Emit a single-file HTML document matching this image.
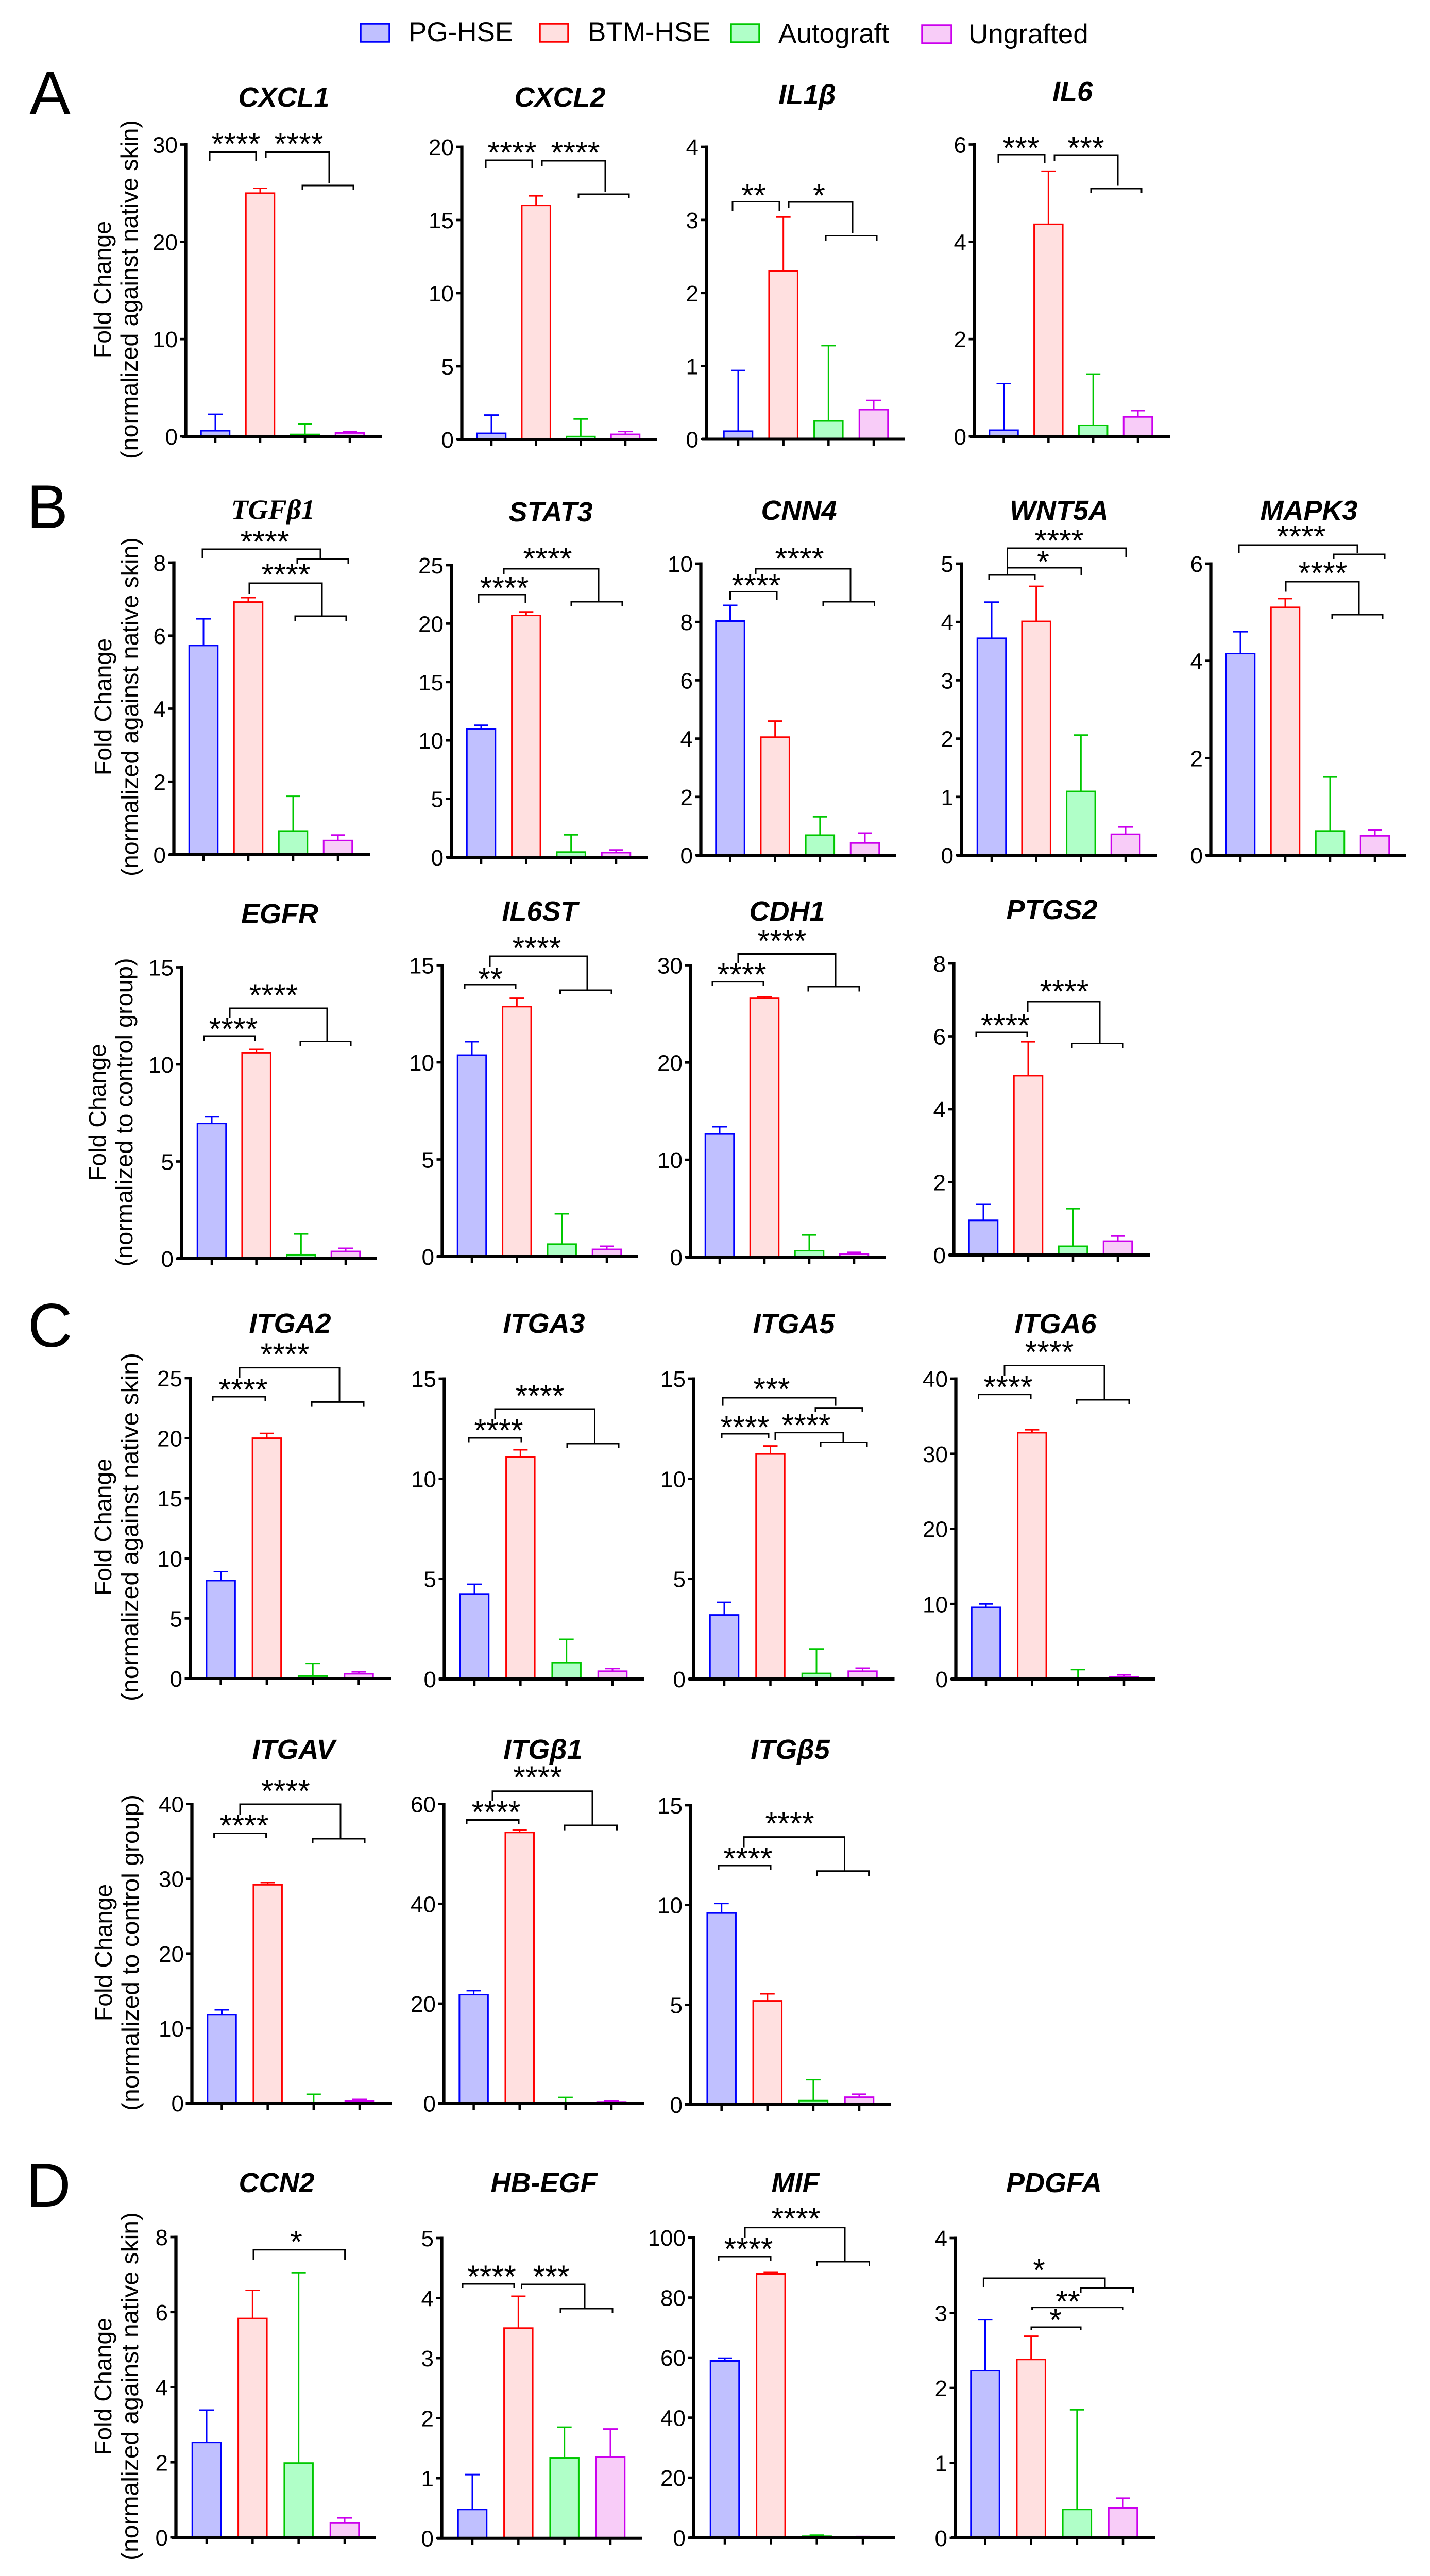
<!DOCTYPE html>
<html lang="en">
<head>
<meta charset="utf-8">
<title>Fold change bar charts</title>
<style>
html,body{margin:0;padding:0;background:#fff;width:2776px;height:5006px;overflow:hidden}
svg{display:block;overflow:hidden}
text{font-family:"Liberation Sans",Arial,sans-serif;fill:#000}
.gene{font-weight:bold;font-style:italic;font-size:54px;text-anchor:middle}
.gene.serif{font-family:"Liberation Serif",serif}
.tick{font-size:44px;text-anchor:end}
.stars{font-size:61px;text-anchor:middle}
.ytitle{font-size:46.5px;text-anchor:middle}
.legend-text{font-size:53px}
.letter{font-size:120px}
</style>
</head>
<body>
<svg id="figure" xmlns="http://www.w3.org/2000/svg" width="2776" height="5006" viewBox="0 0 2776 5006">
  <rect width="2776" height="5006" fill="#ffffff"/>
  <g>
    <g>
      <rect x="700" y="46" width="56" height="35" fill="#c0c0ff" stroke="#0000ff" stroke-width="3.5"/>
      <text class="legend-text" x="793" y="80">PG-HSE</text>
    </g>
    <g>
      <rect x="1048" y="46" width="55" height="35" fill="#ffe0e0" stroke="#ff0000" stroke-width="3.5"/>
      <text class="legend-text" x="1141" y="80">BTM-HSE</text>
    </g>
    <g>
      <rect x="1419" y="47" width="55" height="35" fill="#b0ffc8" stroke="#00c800" stroke-width="3.5"/>
      <text class="legend-text" x="1511" y="83">Autograft</text>
    </g>
    <g>
      <rect x="1790" y="49" width="57" height="35" fill="#f8ccf8" stroke="#cc00ee" stroke-width="3.5"/>
      <text class="legend-text" x="1880" y="84">Ungrafted</text>
    </g>
  </g>
  <text class="letter" x="57" y="222">A</text>
  <text class="letter" x="52" y="1025">B</text>
  <text class="letter" x="54" y="2614">C</text>
  <text class="letter" x="51" y="4283">D</text>
</svg>
<script>
const categories = ['PG-HSE', 'BTM-HSE', 'Autograft', 'Ungrafted'];

const geneNames = ['CXCL1','CXCL2','IL1β','IL6','TGFβ1','STAT3','CNN4','WNT5A','MAPK3','EGFR','IL6ST','CDH1','PTGS2','ITGA2','ITGA3','ITGA5','ITGA6','ITGAV','ITGβ1','ITGβ5','CCN2','HB-EGF','MIF','PDGFA'];

const meanValues = [
  [0.58,25,0.2,0.35],
  [0.42,16,0.2,0.35],
  [0.11,2.3,0.25,0.405],
  [0.127,4.36,0.228,0.4],
  [5.73,6.92,0.65,0.39],
  [11,20.7,0.45,0.4],
  [8.03,4.05,0.69,0.42],
  [3.72,4.01,1.095,0.36],
  [4.15,5.1,0.5,0.4],
  [6.96,10.6,0.2,0.37],
  [10.37,12.87,0.64,0.37],
  [12.65,26.6,0.66,0.3],
  [0.95,4.92,0.24,0.38],
  [8.15,20,0.2,0.39],
  [4.25,11.1,0.82,0.39],
  [3.2,11.24,0.28,0.39],
  [9.54,32.8,0.1,0.3],
  [11.8,29.2,0.07,0.28],
  [21.8,54.3,0.05,0.3],
  [9.6,5.2,0.2,0.37],
  [2.53,5.83,1.98,0.38],
  [0.48,3.5,1.34,1.35],
  [58.9,87.9,0.5,0.1],
  [2.23,2.38,0.38,0.4]
];

const errorTops = [
  [2.27,25.5,1.27,0.5],
  [1.67,16.65,1.4,0.54],
  [0.94,3.04,1.28,0.53],
  [1.085,5.45,1.28,0.53],
  [6.46,7.04,1.6,0.54],
  [11.3,21,1.93,0.63],
  [8.57,4.6,1.32,0.76],
  [4.34,4.61,2.06,0.485],
  [4.6,5.28,1.61,0.52],
  [7.3,10.77,1.27,0.53],
  [11.06,13.3,2.2,0.53],
  [13.4,26.75,2.27,0.48],
  [1.4,5.85,1.27,0.52],
  [8.9,20.4,1.26,0.55],
  [4.73,11.45,1.98,0.52],
  [3.83,11.64,1.5,0.54],
  [10,33.2,1.25,0.55],
  [12.47,29.5,1.17,0.48],
  [22.6,54.8,1.2,0.5],
  [10.08,5.55,1.25,0.52],
  [3.39,6.58,7.05,0.52],
  [1.06,4.03,1.85,1.82],
  [59.8,88.5,0.85,0.4],
  [2.91,2.69,1.71,0.53]
];

const tickLabels = [
  [0,10,20,30],
  [0,5,10,15,20],
  [0,1,2,3,4],
  [0,2,4,6],
  [0,2,4,6,8],
  [0,5,10,15,20,25],
  [0,2,4,6,8,10],
  [0,1,2,3,4,5],
  [0,2,4,6],
  [0,5,10,15],
  [0,5,10,15],
  [0,10,20,30],
  [0,2,4,6,8],
  [0,5,10,15,20,25],
  [0,5,10,15],
  [0,5,10,15],
  [0,10,20,30,40],
  [0,10,20,30,40],
  [0,20,40,60],
  [0,5,10,15],
  [0,2,4,6,8],
  [0,1,2,3,4,5],
  [0,20,40,60,80,100],
  [0,1,2,3,4]
];

/* Plot frames: axis x, zero y, top-tick y, first/last category x, axis extent, title placement */
const frames = [
  {ax:360.5,y0:847,yt:280.5,x0:418,x3:679,xs:353,xe:741,tx:551,ty:207},
  {ax:896.5,y0:853,yt:285,x0:954,x3:1214,xs:888,xe:1275,tx:1087,ty:207},
  {ax:1371.5,y0:852.5,yt:285,x0:1433,x3:1696,xs:1363,xe:1756,tx:1567,ty:202},
  {ax:1891.5,y0:847,yt:280.5,x0:1948.5,x3:2209,xs:1883,xe:2271,tx:2082,ty:196},
  {ax:337.5,y0:1659,yt:1092,x0:395,x3:656,xs:329,xe:718,tx:530,ty:1007},
  {ax:876.5,y0:1664,yt:1097,x0:934,x3:1196,xs:868,xe:1257,tx:1069,ty:1012},
  {ax:1360.5,y0:1660,yt:1094,x0:1417.5,x3:1679,xs:1351,xe:1740,tx:1551,ty:1009},
  {ax:1866.5,y0:1660,yt:1094,x0:1925,x3:2185,xs:1858,xe:2247,tx:2056,ty:1009},
  {ax:2350.5,y0:1660,yt:1094,x0:2408,x3:2669,xs:2341,xe:2730,tx:2541,ty:1009},
  {ax:352.5,y0:2443,yt:1877.5,x0:411,x3:671,xs:344,xe:732,tx:543,ty:1792},
  {ax:858.5,y0:2439,yt:1873.5,x0:916,x3:1178,xs:849,xe:1238,tx:1048,ty:1787},
  {ax:1340.5,y0:2440,yt:1873.5,x0:1397,x3:1658,xs:1331,xe:1719,tx:1528,ty:1787},
  {ax:1851.5,y0:2436,yt:1870,x0:1909,x3:2170,xs:1843,xe:2232,tx:2042,ty:1784},
  {ax:369.5,y0:3258,yt:2675,x0:428.6,x3:696.5,xs:360,xe:759,tx:563,ty:2587},
  {ax:862.5,y0:3259,yt:2676,x0:921,x3:1189,xs:853,xe:1251,tx:1056,ty:2587},
  {ax:1346.5,y0:3259,yt:2676,x0:1406,x3:1674.5,xs:1338,xe:1736.5,tx:1541,ty:2588},
  {ax:1855.5,y0:3259,yt:2676,x0:1914,x3:2182,xs:1847,xe:2243,tx:2049,ty:2588},
  {ax:372.5,y0:4082,yt:3501.6,x0:430.5,x3:698,xs:360.5,xe:761,tx:570,ty:3414},
  {ax:861.5,y0:4082.7,yt:3501.6,x0:919.6,x3:1187,xs:851,xe:1250,tx:1054,ty:3414},
  {ax:1340.5,y0:4085,yt:3504,x0:1400.7,x3:1668,xs:1329.5,xe:1730,tx:1534,ty:3414},
  {ax:341.5,y0:4925,yt:4342,x0:401,x3:669,xs:333,xe:730,tx:537,ty:4255},
  {ax:857.5,y0:4926.7,yt:4344,x0:917,x3:1185,xs:848,xe:1247,tx:1056,ty:4255},
  {ax:1346.5,y0:4925.7,yt:4343,x0:1407,x3:1675,xs:1338.5,xe:1737,tx:1544,ty:4255},
  {ax:1854.5,y0:4926,yt:4344,x0:1912.5,x3:2180,xs:1846,xe:2242,tx:2046,ty:4255}
];

/* Significance brackets: [left x, right x, top y, left foot y, right foot y] */
const bracketShapes = [
  [[407,497,295.5,312,312],[516,639,295.5,307,355],[587,686,360,368.5,368.5]],
  [[943,1033,311,327,327],[1052,1175,312,323,372],[1123,1221,377,385,385]],
  [[1422,1513,391.5,409,409],[1531,1655,392,403.6,452],[1603,1702,457.5,467,467]],
  [[1938,2028,300,316,316],[2047,2170,301,312,360.5],[2118,2216,366,374,374]],
  [[393,622,1066,1083,1083],[577,676,1085,1094,1094],[484,625,1132,1152,1196],[573,672,1196,1206,1206]],
  [[929,1020,1154,1170,1170],[978,1162,1104,1115,1168],[1109,1208,1168,1177,1177]],
  [[1417.5,1508,1148.5,1164,1164],[1467,1651,1104,1114,1168],[1598,1697.5,1168,1177,1177]],
  [[1920,2009,1116,1125.5,1125.5],[1955.5,2099,1102,1116,1117],[1955.5,2186,1064,1116,1082]],
  [[2405,2635,1058,1073.5,1073.5],[2589,2688,1076,1085,1085],[2496,2638,1129,1148.5,1193],[2586,2684,1193,1202,1202]],
  [[396,495.5,2011,2020,2020],[446,635,1957,1975.5,2021],[583,681,2021.5,2030.6,2030.6]],
  [[902,1001,1911,1919,1919],[951,1140,1856,1876,1922],[1087.5,1187,1922,1930,1930]],
  [[1383,1482,1905.6,1913,1913],[1433,1622,1851.5,1870,1915],[1569,1668,1915,1924.5,1924.5]],
  [[1895,1994,2004,2012,2012],[1995,2135,1944,1965,2025],[2081,2180,2025.5,2035,2035]],
  [[413,515,2711,2719,2719],[465,659,2654.6,2675,2721],[605,706,2721.4,2730.6,2730.6]],
  [[910,1012,2791,2799.5,2799.5],[961,1154.5,2735,2754,2802],[1101,1201,2802,2810,2810]],
  [[1403,1622,2713,2728.6,2728.6],[1583,1674,2732.6,2741,2741],[1401,1492,2783,2792,2792],[1505,1637,2780.6,2796,2799.5],[1593,1683,2799.5,2808.7,2808.7]],
  [[1899.5,2001,2706.6,2715,2715],[1950,2144,2650.5,2670,2717],[2090,2192,2717,2726,2726]],
  [[415.6,516.6,3558.5,3567,3567],[466,661,3502,3522,3569],[607,708,3569,3578,3578]],
  [[906,1007,3532.5,3541,3541],[956,1150,3476.7,3496,3543],[1096,1197.5,3543,3552.6,3552.6]],
  [[1395,1496,3621,3629.5,3629.5],[1444,1639.5,3565.6,3585.6,3631.7],[1585.5,1686.6,3631.7,3641,3641]],
  [[492,669.6,4366.7,4386,4386]],
  [[898,998,4433,4441,4441],[1012.5,1135,4434,4443,4481],[1088,1189,4481,4489.5,4489.5]],
  [[1395,1496,4380,4388.5,4388.5],[1446,1640,4323.6,4344,4390],[1586,1687.5,4390,4399,4399]],
  [[1909.4,2145,4422,4439,4439],[2098,2199.5,4441.5,4450,4450],[2003.6,2180,4478.6,4484,4484],[2002,2098,4517,4523,4523]]
];

/* Significance marks: [label, centre x, centre y] */
const starMarks = [
  [['****',458,273],['****',580,273]],
  [['****',994,290],['****',1117,290]],
  [['**',1463,373],['*',1590,373]],
  [['***',1982,281],['***',2108,281]],
  [['****',514,1045],['****',555,1109]],
  [['****',979,1135],['****',1063,1078]],
  [['****',1468,1130],['****',1552,1078]],
  [['*',2025,1084],['****',2056,1043]],
  [['****',2526,1035],['****',2568,1106]],
  [['****',453,1991],['****',531,1925.5]],
  [['**',952,1894],['****',1042,1834]],
  [['****',1440,1885],['****',1518,1820]],
  [['****',1951.5,1984],['****',2066,1918]],
  [['****',472,2691],['****',553,2622.5]],
  [['****',968,2770],['****',1048,2703]],
  [['***',1498,2690],['****',1446,2764],['****',1565,2760]],
  [['****',1957,2686],['****',2037,2618]],
  [['****',474,3537],['****',554.5,3470]],
  [['****',963,3511],['****',1043.6,3443.6]],
  [['****',1452,3601],['****',1533,3533]],
  [['*',575,4345]],
  [['****',954.5,4412.6],['***',1070,4412.6]],
  [['****',1453,4359],['****',1545,4300]],
  [['*',2017,4400],['**',2073,4461],['*',2049,4497]]
];

/* Shared Y-axis titles, one per chart row */
const yTitles = [
  {a:'Fold Change',b:'(normalized against native skin)',cy:562,xa:215,xb:267,len:658},
  {a:'Fold Change',b:'(normalized against native skin)',cy:1372,xa:216,xb:268,len:658},
  {a:'Fold Change',b:'(normalized to control group)',cy:2159,xa:205,xb:257,len:599},
  {a:'Fold Change',b:'(normalized against native skin)',cy:2964,xa:216,xb:268,len:676},
  {a:'Fold Change',b:'(normalized to control group)',cy:3790,xa:217,xb:269,len:614},
  {a:'Fold Change',b:'(normalized against native skin)',cy:4632,xa:216,xb:268,len:676}
];

const seriesStroke = ['#0000ff', '#ff0000', '#00c800', '#cc00ee'];
const seriesFill = ['#c0c0ff', '#ffe0e0', '#b0ffc8', '#f8ccf8'];
const BAR_WIDTH = 55.5;
const CAP_WIDTH = 28;

const svg = document.getElementById('figure');
const NS = 'http://www.w3.org/2000/svg';

function make(tag, parent, attrs) {
  const el = document.createElementNS(NS, tag);
  for (const k in attrs) el.setAttribute(k, attrs[k]);
  parent.appendChild(el);
  return el;
}
function slug(s) {
  return s.toLowerCase().replace('β', 'b');
}

yTitles.forEach(function (t, i) {
  const first = make('text', svg, {class:'ytitle', transform:'translate(' + t.xa + ',' + t.cy + ') rotate(-90)'});
  first.textContent = t.a;
  
  
  const second = make('text', svg, {class:'ytitle', transform:'translate(' + t.xb + ',' + t.cy + ') rotate(-90)', textLength:t.len, lengthAdjust:'spacingAndGlyphs'});
  second.textContent = t.b;
  
  
});

geneNames.forEach(function (gene, c) {
  const f = frames[c];
  const labels = tickLabels[c];
  const maxValue = labels[labels.length - 1];
  const yScale = function (v) { return f.y0 - v * (f.y0 - f.yt) / maxValue; };
  const xScale = function (i) { return f.x0 + i * (f.x3 - f.x0) / (categories.length - 1); };
  const id = slug(gene);

  const chart = make('g', svg, {});
  
  

  const title = make('text', chart, {class: gene === 'TGFβ1' ? 'gene serif' : 'gene', x:f.tx, y:f.ty});
  title.textContent = gene;
  
  

  categories.forEach(function (cat, i) {
    const x = xScale(i);
    const top = yScale(meanValues[c][i]);
    const errY = yScale(errorTops[c][i]);
    const err = make('path', chart, {d:'M' + x + ' ' + top + 'V' + errY + 'M' + (x - CAP_WIDTH / 2) + ' ' + errY + 'H' + (x + CAP_WIDTH / 2), fill:'none', stroke:seriesStroke[i], 'stroke-width':3});
    
    
    const bar = make('rect', chart, {x:x - BAR_WIDTH / 2, y:top, width:BAR_WIDTH, height:Math.max(0, f.y0 - top), fill:seriesFill[i], stroke:seriesStroke[i], 'stroke-width':3});
    
    
    const tick = make('line', chart, {x1:x, x2:x, y1:f.y0, y2:f.y0 + 13, stroke:'#000', 'stroke-width':4.5});
    
    
  });

  const xAxis = make('line', chart, {x1:f.xs, x2:f.xe, y1:f.y0, y2:f.y0, stroke:'#000', 'stroke-width':6});
  
  
  const yAxis = make('line', chart, {x1:f.ax, x2:f.ax, y1:f.y0, y2:f.yt - 2.5, stroke:'#000', 'stroke-width':6.3});
  
  

  labels.forEach(function (v) {
    const y = yScale(v);
    const tick = make('line', chart, {x1:f.ax - 11, x2:f.ax, y1:y, y2:y, stroke:'#000', 'stroke-width':4.7});
    
    
    const label = make('text', chart, {class:'tick', x:f.ax - 15.5, y:y + 16});
    label.textContent = v;
    
    
  });

  bracketShapes[c].forEach(function (b, i) {
    const path = make('path', chart, {d:'M' + b[0] + ' ' + b[3] + 'V' + b[2] + 'H' + b[1] + 'V' + b[4], fill:'none', stroke:'#000', 'stroke-width':3});
    
    
  });

  starMarks[c].forEach(function (s, i) {
    const mark = make('text', chart, {class:'stars', x:s[1], y:s[2] + 27});
    mark.textContent = s[0];
    
    
  });
});
</script>
</body>
</html>
